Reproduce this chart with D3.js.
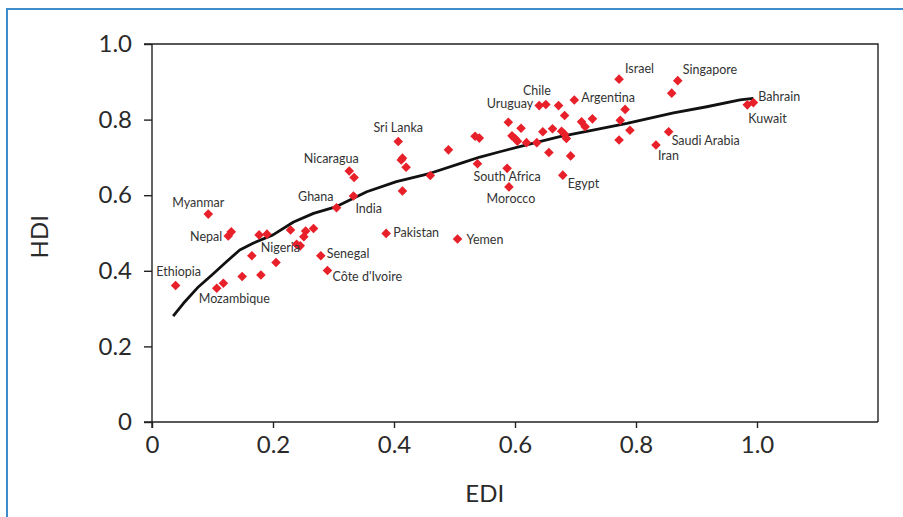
<!DOCTYPE html>
<html>
<head>
<meta charset="utf-8">
<script src="https://cdn.jsdelivr.net/npm/d3@7"></script>
<style>
  html, body { margin: 0; padding: 0; background: #fff; }
  svg { display: block; }
  text { font-family: Lato, "Open Sans", sans-serif; }
</style>
</head>
<body>
<svg id="chart" width="903" height="517"></svg>
<script>
// Countries: education development index (EDI) against human development index (HDI)
const countries = ["Ethiopia","Myanmar","Nepal","","Mozambique","","Nigeria","Ghana","India","Nicaragua","",
  "Sri Lanka","Senegal","Côte d'Ivoire","Pakistan","Yemen","South Africa","Morocco","Egypt","Uruguay","Chile",
  "Argentina","Israel","Singapore","Bahrain","Kuwait","Saudi Arabia","Iran",
  "","","","","","","","","","","","","","","","","","","","","","","","","","","","","","","","","","","","","","","","",""];
const edi = [0.039,0.093,0.126,0.131,0.107,0.118,0.165,0.305,0.333,0.326,0.334,
  0.407,0.279,0.290,0.387,0.505,0.587,0.590,0.679,0.640,0.651,
  0.698,0.772,0.869,0.994,0.984,0.854,0.833,
  0.177,0.190,0.229,0.254,0.251,0.267,0.239,0.245,0.205,0.149,0.180,
  0.412,0.414,0.420,0.414,0.460,0.490,0.534,0.541,0.538,
  0.589,0.610,0.595,0.600,0.604,0.619,0.636,0.646,0.662,0.672,0.682,0.677,0.682,0.685,0.656,0.692,
  0.710,0.716,0.728,0.774,0.782,0.790,0.772,0.859];
const hdi = [0.361,0.550,0.492,0.503,0.354,0.367,0.440,0.567,0.598,0.664,0.647,
  0.742,0.440,0.401,0.499,0.484,0.671,0.622,0.653,0.837,0.840,
  0.852,0.907,0.903,0.845,0.839,0.768,0.733,
  0.495,0.497,0.508,0.505,0.490,0.512,0.470,0.466,0.422,0.385,0.389,
  0.693,0.698,0.674,0.611,0.652,0.720,0.756,0.751,0.683,
  0.793,0.777,0.757,0.750,0.743,0.739,0.739,0.768,0.776,0.837,0.811,0.769,0.761,0.750,0.713,0.704,
  0.794,0.781,0.802,0.798,0.827,0.772,0.746,0.870];

// Fitted relationship
const fitEdi = [0.035,0.052,0.077,0.099,0.123,0.145,0.167,0.200,0.234,0.267,0.305,0.355,0.404,0.460,
  0.515,0.542,0.575,0.619,0.674,0.729,0.785,0.840,0.862,0.917,0.972,0.994];
const fitHdi = [0.280,0.314,0.358,0.389,0.424,0.455,0.473,0.495,0.529,0.552,0.570,0.609,0.636,0.658,
  0.687,0.701,0.715,0.733,0.755,0.772,0.790,0.810,0.818,0.834,0.852,0.856];

const xTicks = [0, 0.2, 0.4, 0.6, 0.8, 1.0];
const yTicks = [0, 0.2, 0.4, 0.6, 0.8, 1.0];
const xTitle = "EDI";
const yTitle = "HDI";

// Label placement around each named marker: [dx, dy, anchor]
const labelPlace = {
  "Ethiopia": [3, -10, "middle"], "Myanmar": [-10, -7, "middle"], "Nepal": [-6, 5, "end"],
  "Mozambique": [-18, 15, "start"], "Nigeria": [9, -4, "start"], "Ghana": [-3, -7, "end"],
  "India": [2, 17, "start"], "Nicaragua": [-18, -8, "middle"], "Sri Lanka": [0, -10, "middle"],
  "Senegal": [6, 2, "start"], "Côte d'Ivoire": [5, 11, "start"], "Pakistan": [7, 4, "start"],
  "Yemen": [9, 5, "start"], "South Africa": [0, 13, "middle"], "Morocco": [2, 16, "middle"],
  "Egypt": [5, 13, "start"], "Uruguay": [-6, 2, "end"], "Chile": [-9, -9, "middle"],
  "Argentina": [7, 2, "start"], "Israel": [6, -6, "start"], "Singapore": [5, -7, "start"],
  "Bahrain": [5, -2, "start"], "Kuwait": [1, 18, "start"], "Saudi Arabia": [3, 13, "start"],
  "Iran": [2, 15, "start"]
};

const svg = d3.select("#chart");
const W = 903, H = 517;

// Outer frame
svg.append("rect").attr("x", 7).attr("y", 9).attr("width", W + 20).attr("height", H + 20)
  .attr("fill", "none").attr("stroke", "#3f8ccc").attr("stroke-width", 2);

const x = d3.scaleLinear().domain([0, 1.2]).range([152, 152 + 605 * 1.2]);
const y = d3.scaleLinear().domain([0, 1]).range([422, 44]);

const fmt = v => v === 0 ? "0" : d3.format(".1f")(v);

// Plot box (top and right edges)
svg.append("path")
  .attr("d", `M${x(0) - 8},${y(1)}H${x(1.2)}V${y(0)}`)
  .attr("fill", "none").attr("stroke", "#222").attr("stroke-width", 1.4);

const yAxis = svg.append("g").attr("transform", `translate(${x(0)},0)`)
  .call(d3.axisLeft(y).tickValues(yTicks).tickFormat(fmt).tickSize(8).tickPadding(12));
const xAxis = svg.append("g").attr("transform", `translate(0,${y(0)})`)
  .call(d3.axisBottom(x).tickValues(xTicks).tickFormat(fmt).tickSize(6).tickPadding(8));

[yAxis, xAxis].forEach(g => {
  g.select(".domain").remove();
  g.selectAll(".tick line").attr("stroke", "#222").attr("stroke-width", 1.4);
  g.selectAll(".tick text").attr("fill", "#2a2a2a").style("font-size", "24px")
    .style("font-family", "Lato, sans-serif");
});
// axis lines
svg.append("line").attr("x1", x(0)).attr("x2", x(0)).attr("y1", y(1)).attr("y2", y(0) + 6)
  .attr("stroke", "#222").attr("stroke-width", 1.4);
svg.append("line").attr("x1", x(0) - 8).attr("x2", x(1.2)).attr("y1", y(0)).attr("y2", y(0))
  .attr("stroke", "#222").attr("stroke-width", 1.4);

// Axis titles
svg.append("text").attr("x", x(0.55)).attr("y", 502).attr("text-anchor", "middle")
  .attr("fill", "#2a2a2a").style("font-size", "24px").text(xTitle);
svg.append("text").attr("transform", `translate(48,${y(0.49)}) rotate(-90)`).attr("text-anchor", "middle")
  .attr("fill", "#2a2a2a").style("font-size", "24px").text(yTitle);

// Fitted curve
const line = d3.line().x((d, i) => x(fitEdi[i])).y((d, i) => y(fitHdi[i]));
svg.append("path").datum(fitEdi).attr("d", line)
  .attr("fill", "none").attr("stroke", "#111").attr("stroke-width", 2.8)
  .attr("stroke-linejoin", "round");

// Country markers
const pts = edi.map((e, i) => ({ name: countries[i] || "", e, h: hdi[i] }));
svg.append("g").selectAll("path").data(pts).join("path")
  .attr("d", d3.symbol().type(d3.symbolSquare).size(46))
  .attr("transform", d => `translate(${x(d.e)},${y(d.h)}) rotate(45)`)
  .attr("fill", "#e8202a");

// Country labels
svg.append("g").selectAll("text").data(pts.filter(d => d.name)).join("text")
  .attr("x", d => x(d.e) + labelPlace[d.name][0])
  .attr("y", d => y(d.h) + labelPlace[d.name][1])
  .attr("text-anchor", d => labelPlace[d.name][2])
  .attr("fill", "#333").style("font-size", "12.5px")
  .text(d => d.name);
</script>
</body>
</html>
